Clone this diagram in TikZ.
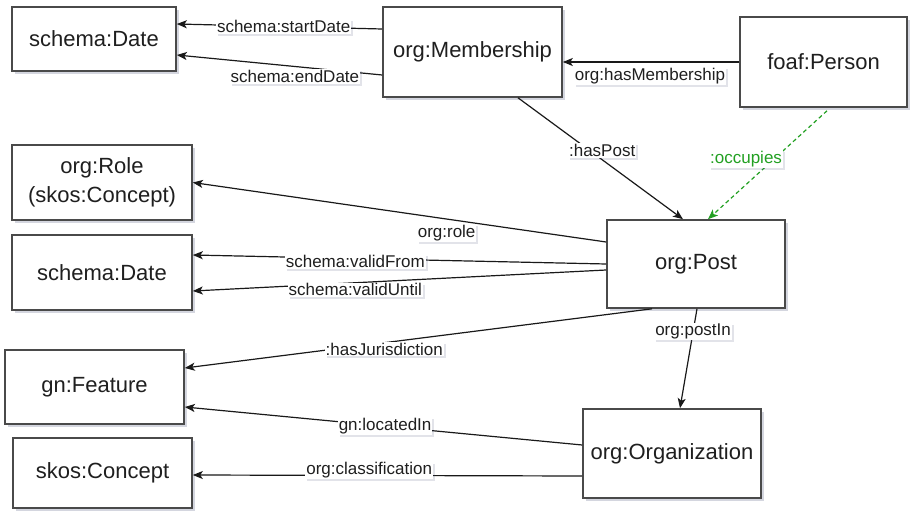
\documentclass[tikz,border=0pt]{standalone}
\usepackage{fontspec}
\setmainfont{Liberation Sans}
\usetikzlibrary{arrows.meta,shadows}
\definecolor{boxline}{HTML}{4A4A4A}
\definecolor{occgreen}{RGB}{34,160,34}
\definecolor{shadowc}{RGB}{60,70,110}
\tikzset{
  box/.style={draw=boxline, line width=1.6pt, fill=white, align=center,
    font=\fontsize{22}{29}\selectfont, text=black!88, inner sep=0pt,
    drop shadow={shadow xshift=3pt, shadow yshift=-3pt, fill=shadowc, opacity=0.22}},
  lbl/.style={fill=white, inner sep=1pt, font=\fontsize{17}{20}\selectfont, text=black!88,
    drop shadow={shadow xshift=2pt, shadow yshift=-2pt, fill=shadowc, opacity=0.15}},
  rel/.style={draw=black!90, line width=1.2pt, -{Stealth[length=10pt,width=8pt,inset=2.5pt]}},
  occ/.style={draw=occgreen, line width=1.2pt, dashed, dash pattern=on 4pt off 3pt,
    -{Stealth[length=10pt,width=8pt,inset=2.5pt]}},
}
\begin{document}
\begin{tikzpicture}[x=1pt,y=-1pt]
\useasboundingbox (0,0) rectangle (910,513);
% nodes
\node[box, minimum width=164pt, minimum height=64pt] (date1) at (94,39) {schema:Date};
\node[box, minimum width=179pt, minimum height=90pt] (mem) at (472.5,52) {org:Membership};
\node[box, minimum width=167pt, minimum height=90pt] (person) at (823.5,62) {foaf:Person};
\node[box, minimum width=180pt, minimum height=75pt] (role) at (102,182.5) {org:Role\\(skos:Concept)};
\node[box, minimum width=180pt, minimum height=75pt] (date2) at (102,272.5) {schema:Date};
\node[box, minimum width=178pt, minimum height=88pt] (post) at (696,264) {org:Post};
\node[box, minimum width=179pt, minimum height=74pt] (feat) at (94.5,387) {gn:Feature};
\node[box, minimum width=179pt, minimum height=70pt] (skos) at (102.5,473) {skos:Concept};
\node[box, minimum width=178pt, minimum height=89pt] (org) at (672,453.5) {org:Organization};
% edges
\draw[rel] ([yshift=23pt]mem.west) -- ([yshift=15pt]date1.east)
  node[lbl, pos=0.48] (l1) {schema:startDate};
\draw[rel] ([yshift=-23pt]mem.west) -- ([yshift=-16pt]date1.east)
  node[lbl, pos=0.425, yshift=-10pt] (l2) {schema:endDate};
\draw[rel] (person.west) -- ([yshift=-10pt]mem.east)
  node[lbl, pos=0.506, yshift=-14pt] (l3) {org:hasMembership};
\draw[rel] ([xshift=45.5pt]mem.south) -- ([xshift=-13pt]post.north)
  node[lbl, pos=0.51, yshift=9pt] (l4) {:hasPost};
\draw[occ] ([xshift=3.5pt,yshift=-3pt]person.south) -- ([xshift=12pt]post.north)
  node[lbl, pos=0.445, xshift=-28pt, text=occgreen] (l5) {:occupies};
\draw[rel] ([yshift=22pt]post.west) -- (role.east)
  node[lbl, pos=0.386, yshift=-14pt] (l6) {org:role};
\draw[rel] (post.west) -- ([yshift=17.5pt]date2.east)
  node[lbl, pos=0.607, yshift=-3pt] (l7) {schema:validFrom};
\draw[rel] ([yshift=-6pt]post.west) -- ([yshift=-18.5pt]date2.east)
  node[lbl, pos=0.607, yshift=-7pt] (l8) {schema:validUntil};
\draw[rel] ([xshift=-44pt]post.south) -- ([yshift=19pt]feat.east)
  node[lbl, pos=0.573, yshift=-6.5pt] (l9) {:hasJurisdiction};
\draw[rel] ([xshift=1pt]post.south) -- ([xshift=8pt]org.north)
  node[lbl, pos=0.23] (l10) {org:postIn};
\draw[rel] ([yshift=8.5pt]org.west) -- ([yshift=-20pt]feat.east)
  node[lbl, pos=0.496] (l11) {gn:locatedIn};
\draw[rel] ([yshift=-22.5pt]org.west) -- ([yshift=-2pt]skos.east)
  node[lbl, pos=0.547, yshift=5pt] (l12) {org:classification};
\end{tikzpicture}
\end{document}
